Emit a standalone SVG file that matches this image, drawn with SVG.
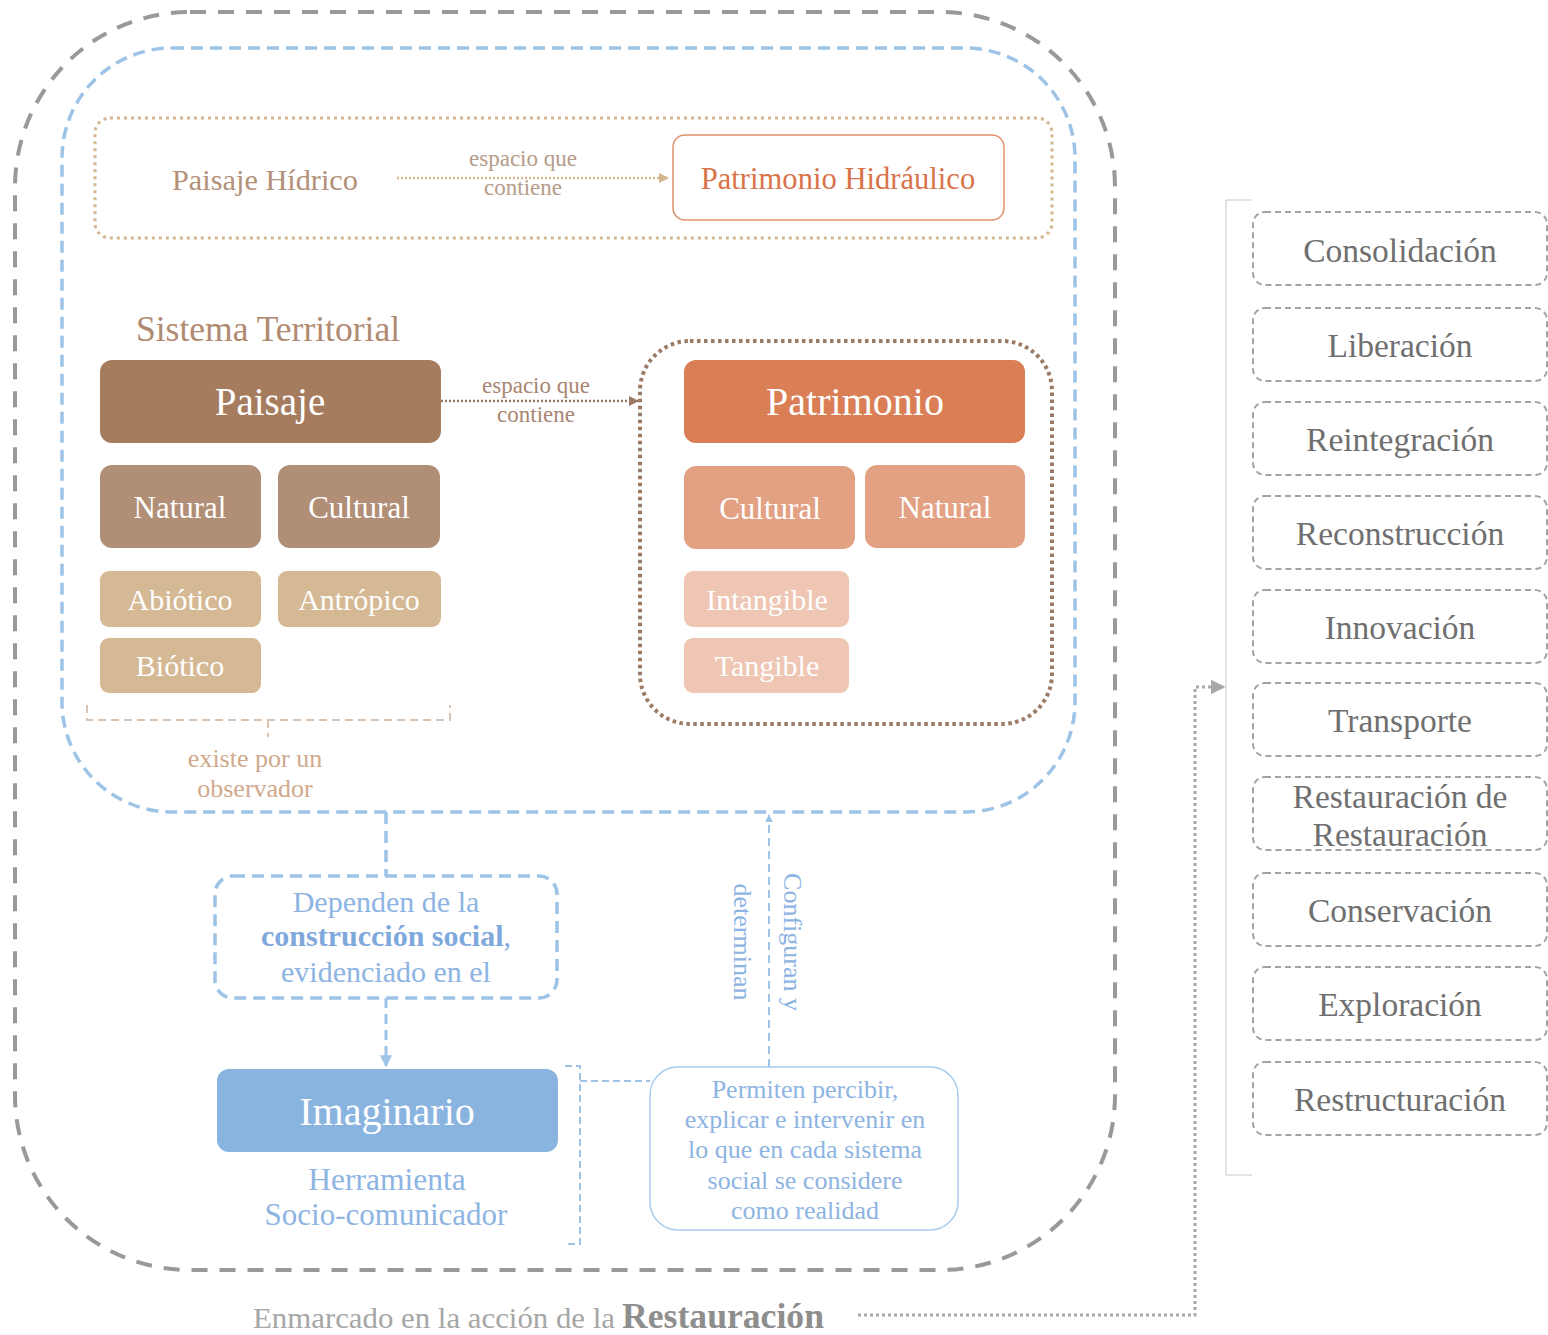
<svg xmlns="http://www.w3.org/2000/svg" width="1548" height="1335" viewBox="0 0 1548 1335">
<style>
text{font-family:"Liberation Serif","DejaVu Serif",serif;text-anchor:middle}
.wt{fill:#fff}
.blue{fill:#8DB4E2}
.gr{fill:#6F6F6F;font-size:33.5px}
.rbox{fill:#fff;stroke:#A3A3A3;stroke-width:2;stroke-dasharray:6 4}
</style>
<defs>
<marker id="aTan" viewBox="0 0 10 10" refX="9" refY="5" markerWidth="4" markerHeight="4" orient="auto"><path d="M0,0L10,5L0,10z" fill="#D4B690"/></marker>
<marker id="aBrown" viewBox="0 0 10 10" refX="9" refY="5" markerWidth="4" markerHeight="4" orient="auto"><path d="M0,0L10,5L0,10z" fill="#9C7A63"/></marker>
<marker id="aBlue" viewBox="0 0 10 10" refX="9" refY="5" markerWidth="4" markerHeight="4" orient="auto"><path d="M0,0L10,5L0,10z" fill="#9DC3E6"/></marker>
<marker id="aGray" viewBox="0 0 10 10" refX="9" refY="5" markerWidth="5" markerHeight="5" orient="auto"><path d="M0,0L10,5L0,10z" fill="#A8A8A8"/></marker>
</defs>

<g id="frame-outer"><rect x="15" y="12" width="1100" height="1258" rx="175" fill="none" stroke="#999" stroke-width="4" stroke-dasharray="16 12"/></g>
<g id="frame-blue"><rect x="62" y="48" width="1013" height="764" rx="110" fill="none" stroke="#9DC3E6" stroke-width="3.5" stroke-dasharray="12 7"/></g>
<g id="frame-hidrico"><rect x="95" y="118" width="957" height="120" rx="15" fill="none" stroke="#D4B690" stroke-width="3" stroke-dasharray="3 4"/></g>

<g id="paisaje-hidrico"><text x="265" y="190" font-size="30.3" fill="#B39078">Paisaje Hídrico</text></g>
<g id="patrimonio-hidraulico"><rect x="673" y="135" width="331" height="85" rx="12" fill="#fff" stroke="#E0906A" stroke-width="1.5"/><text x="838" y="189" font-size="30.6" fill="#D9734A">Patrimonio Hidráulico</text></g>

<g id="sistema-territorial"><text x="268" y="341" font-size="35.5" fill="#B08A70">Sistema Territorial</text></g>
<g id="paisaje"><rect x="100" y="360" width="341" height="83" rx="12" fill="#A67C5F"/><text class="wt" x="270" y="415" font-size="39">Paisaje</text></g>
<g id="p-natural"><rect x="100" y="465" width="161" height="83" rx="12" fill="#B18E76"/><text class="wt" x="180" y="518" font-size="31">Natural</text></g>
<g id="p-cultural"><rect x="278" y="465" width="162" height="83" rx="12" fill="#B18E76"/><text class="wt" x="359" y="518" font-size="31">Cultural</text></g>
<g id="abiotico"><rect x="100" y="571" width="161" height="56" rx="9" fill="#D5B894"/><text class="wt" x="180" y="610" font-size="30">Abiótico</text></g>
<g id="antropico"><rect x="278" y="571" width="163" height="56" rx="9" fill="#D5B894"/><text class="wt" x="359" y="610" font-size="30">Antrópico</text></g>
<g id="biotico"><rect x="100" y="638" width="161" height="55" rx="9" fill="#D5B894"/><text class="wt" x="180" y="676" font-size="30">Biótico</text></g>

<g id="patrimonio-group"><rect x="640" y="341" width="412" height="383" rx="50" fill="none" stroke="#9C7A63" stroke-width="4" stroke-dasharray="3.5 3.5"/></g>
<g id="patrimonio"><rect x="684" y="360" width="341" height="83" rx="12" fill="#D97E55"/><text class="wt" x="855" y="415" font-size="40">Patrimonio</text></g>
<g id="t-cultural"><rect x="684" y="466" width="171" height="83" rx="12" fill="#E3A184"/><text class="wt" x="770" y="519" font-size="31">Cultural</text></g>
<g id="t-natural"><rect x="865" y="465" width="160" height="83" rx="12" fill="#E3A184"/><text class="wt" x="945" y="518" font-size="31">Natural</text></g>
<g id="intangible"><rect x="684" y="571" width="165" height="56" rx="9" fill="#EEC6B3"/><text class="wt" x="767" y="610" font-size="30">Intangible</text></g>
<g id="tangible"><rect x="684" y="638" width="165" height="55" rx="9" fill="#EEC6B3"/><text class="wt" x="767" y="676" font-size="30">Tangible</text></g>

<g id="observador"><text x="255" y="767" font-size="26" fill="#D0A98C">existe por un</text><text x="255" y="797" font-size="26" fill="#D0A98C">observador</text></g>

<g id="dependen"><rect x="215" y="876" width="342" height="122" rx="18" fill="none" stroke="#9DC3E6" stroke-width="3.5" stroke-dasharray="12 7"/>
<text class="blue" x="386" y="912" font-size="30">Dependen de la</text>
<text x="386" y="946" font-size="30" font-weight="bold" fill="#7FA9DC">construcción social<tspan font-weight="normal">,</tspan></text>
<text class="blue" x="386" y="982" font-size="30">evidenciado en el</text></g>

<g id="imaginario"><rect x="217" y="1069" width="341" height="83" rx="12" fill="#8AB4E0"/><text class="wt" x="387" y="1125" font-size="40">Imaginario</text></g>
<g id="herramienta"><text class="blue" x="387" y="1190" font-size="31.5">Herramienta</text><text class="blue" x="386" y="1225" font-size="31">Socio-comunicador</text></g>

<g id="permiten"><rect x="650" y="1067" width="308" height="163" rx="28" fill="#fff" stroke="#AACBEA" stroke-width="1.5"/>
<text class="blue" font-size="26"><tspan x="805" y="1098">Permiten percibir,</tspan><tspan x="805" y="1128">explicar e intervenir en</tspan><tspan x="805" y="1158">lo que en cada sistema</tspan><tspan x="805" y="1189">social se considere</tspan><tspan x="805" y="1219">como realidad</tspan></text></g>

<g id="config-label"><text class="blue" font-size="26" transform="translate(784 942) rotate(90)">Configuran y</text><text class="blue" font-size="26" transform="translate(734 942) rotate(90)">determinan</text></g>

<g id="enmarcado"><text x="253" y="1328" font-size="30" fill="#A6A6A6" style="text-anchor:start" textLength="362" lengthAdjust="spacingAndGlyphs">Enmarcado en la acción de la</text><text x="622" y="1328" font-size="35" font-weight="bold" fill="#8E8E8E" style="text-anchor:start" textLength="202" lengthAdjust="spacingAndGlyphs">Restauración</text></g>

<g id="connectors" fill="none">
<path d="M397,178H668" stroke="#D4B690" stroke-width="2.5" stroke-dasharray="2 2" marker-end="url(#aTan)"/>
<text x="523" y="166" font-size="23" fill="#B59C89" stroke="none">espacio que</text>
<text x="523" y="195" font-size="23" fill="#B59C89" stroke="none">contiene</text>
<path d="M441,401H638" stroke="#9C7A63" stroke-width="2.5" stroke-dasharray="2 2" marker-end="url(#aBrown)"/>
<text x="536" y="393" font-size="23" fill="#A88672" stroke="none">espacio que</text>
<text x="536" y="422" font-size="23" fill="#A88672" stroke="none">contiene</text>
<path d="M87,705V720H450V705M268,720V737" stroke="#D9C3B3" stroke-width="2" stroke-dasharray="8 5"/>
<path d="M386,812V876" stroke="#9DC3E6" stroke-width="3.5" stroke-dasharray="12 7"/>
<path d="M386,998V1066" stroke="#9DC3E6" stroke-width="3" stroke-dasharray="10 6" marker-end="url(#aBlue)"/>
<path d="M769,1067V815" stroke="#9DC3E6" stroke-width="2" stroke-dasharray="8 5" marker-end="url(#aBlue)"/>
<path d="M565,1066H580V1244H565M580,1081H650" stroke="#9DC3E6" stroke-width="2" stroke-dasharray="7 4"/>
<path d="M858,1315H1195V687H1224" stroke="#A8A8A8" stroke-width="3" stroke-dasharray="3 3" marker-end="url(#aGray)"/>
<path d="M1252,200H1226V1175H1252" stroke="#C8C8C8" stroke-width="1"/>
</g>

<g id="consolidacion"><rect class="rbox" x="1253" y="212" width="294" height="73" rx="12"/><text class="gr" x="1400" y="262">Consolidación</text></g>
<g id="liberacion"><rect class="rbox" x="1253" y="308" width="294" height="73" rx="12"/><text class="gr" x="1400" y="357">Liberación</text></g>
<g id="reintegracion"><rect class="rbox" x="1253" y="402" width="294" height="73" rx="12"/><text class="gr" x="1400" y="451">Reintegración</text></g>
<g id="reconstruccion"><rect class="rbox" x="1253" y="496" width="294" height="73" rx="12"/><text class="gr" x="1400" y="545">Reconstrucción</text></g>
<g id="innovacion"><rect class="rbox" x="1253" y="590" width="294" height="73" rx="12"/><text class="gr" x="1400" y="639">Innovación</text></g>
<g id="transporte"><rect class="rbox" x="1253" y="683" width="294" height="73" rx="12"/><text class="gr" x="1400" y="732">Transporte</text></g>
<g id="restauracion-de-restauracion"><rect class="rbox" x="1253" y="777" width="294" height="73" rx="12"/><text class="gr" x="1400" y="808">Restauración de</text><text class="gr" x="1400" y="846">Restauración</text></g>
<g id="conservacion"><rect class="rbox" x="1253" y="873" width="294" height="73" rx="12"/><text class="gr" x="1400" y="922">Conservación</text></g>
<g id="exploracion"><rect class="rbox" x="1253" y="967" width="294" height="73" rx="12"/><text class="gr" x="1400" y="1016">Exploración</text></g>
<g id="restructuracion"><rect class="rbox" x="1253" y="1062" width="294" height="73" rx="12"/><text class="gr" x="1400" y="1111">Restructuración</text></g>
</svg>
